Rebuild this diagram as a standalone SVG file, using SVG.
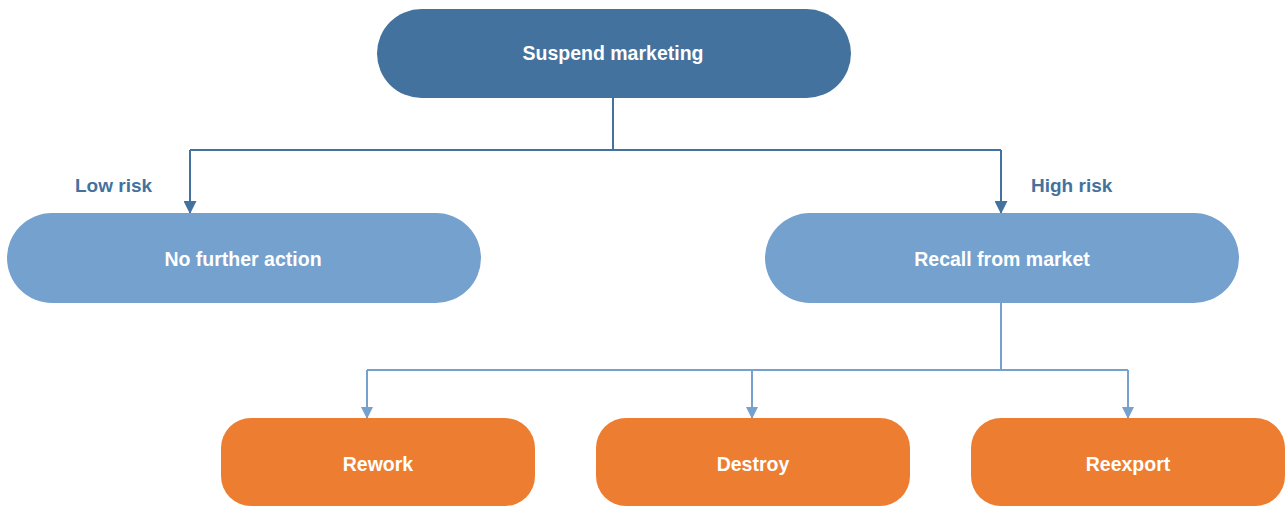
<svg xmlns="http://www.w3.org/2000/svg" width="1285" height="507" viewBox="0 0 1285 507">
<style>
.dark{fill:#43729E;}
.mid{fill:#75A1CE;}
.org{fill:#ED7D31;}
.t{font-family:"Liberation Sans",Arial,sans-serif;font-weight:bold;font-size:19.5px;fill:#FFFFFF;text-anchor:middle;}
.lbl{font-family:"Liberation Sans",Arial,sans-serif;font-weight:bold;font-size:19px;fill:#43729E;}
.c1{fill:none;stroke:#43729E;stroke-width:2;}
.c2{fill:none;stroke:#75A1CE;stroke-width:2;}
</style>
<defs>
<marker id="a1" viewBox="0 0 10 10" refX="10" refY="5" markerWidth="14" markerHeight="13" markerUnits="userSpaceOnUse" orient="auto"><path d="M0,0 L10,5 L0,10 z" fill="#43729E"/></marker>
<marker id="a2" viewBox="0 0 10 10" refX="10" refY="5" markerWidth="13" markerHeight="12" markerUnits="userSpaceOnUse" orient="auto"><path d="M0,0 L10,5 L0,10 z" fill="#75A1CE"/></marker>
</defs>
<rect width="1285" height="507" fill="#FFFFFF"/>
<g id="connectors">
<path class="c1" d="M613,98 V150 M190,150 H1001"/>
<path class="c1" d="M190,150 V214" marker-end="url(#a1)"/>
<path class="c1" d="M1001,150 V214" marker-end="url(#a1)"/>
<path class="c2" d="M1001,303 V370 M367,370 H1128"/>
<path class="c2" d="M367,370 V419" marker-end="url(#a2)"/>
<path class="c2" d="M752,370 V419" marker-end="url(#a2)"/>
<path class="c2" d="M1128,370 V419" marker-end="url(#a2)"/>
<text class="lbl" x="75" y="192">Low risk</text>
<text class="lbl" x="1031" y="192">High risk</text>
</g>
<g id="suspend"><rect class="dark" x="377" y="9" width="474" height="89" rx="44.5"/><text class="t" x="613" y="60">Suspend marketing</text></g>
<g id="nofurther"><rect class="mid" x="7" y="213" width="474" height="90" rx="45"/><text class="t" x="243" y="266">No further action</text></g>
<g id="recall"><rect class="mid" x="765" y="213" width="474" height="90" rx="45"/><text class="t" x="1002" y="266">Recall from market</text></g>
<g id="rework"><rect class="org" x="221" y="418" width="314" height="88" rx="30"/><text class="t" x="378" y="471">Rework</text></g>
<g id="destroy"><rect class="org" x="596" y="418" width="314" height="88" rx="30"/><text class="t" x="753" y="471">Destroy</text></g>
<g id="reexport"><rect class="org" x="971" y="418" width="314" height="88" rx="30"/><text class="t" x="1128" y="471">Reexport</text></g>
</svg>
